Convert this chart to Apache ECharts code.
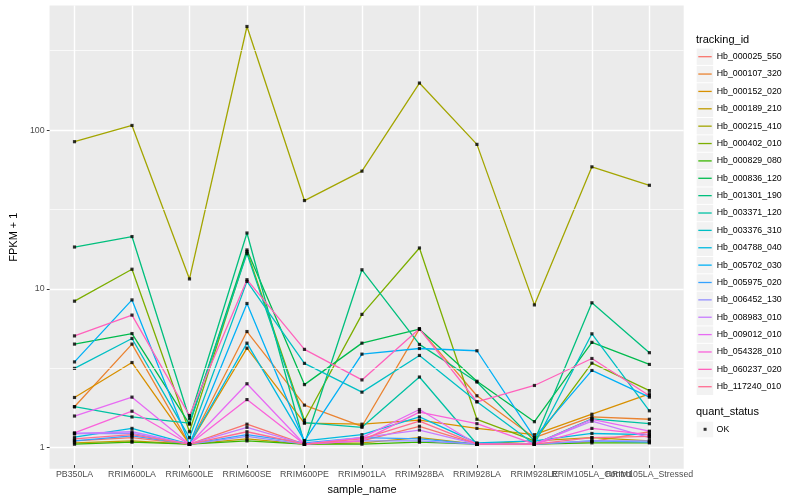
<!DOCTYPE html>
<html>
<head>
<meta charset="utf-8">
<script src="https://cdn.jsdelivr.net/npm/echarts@6/dist/echarts.min.js"></script>
<style>
html,body{margin:0;padding:0;background:#fff;}
#chart{width:800px;height:500px;}
</style>
</head>
<body>
<div id="chart"></div>
<script>
// ---------- data ----------
const categories = ['PB350LA','RRIM600LA','RRIM600LE','RRIM600SE','RRIM600PE','RRIM901LA','RRIM928BA','RRIM928LA','RRIM928LE','RRIM105LA_Control','RRIM105LA_Stressed'];

const trackingIds = ['Hb_000025_550','Hb_000107_320','Hb_000152_020','Hb_000189_210','Hb_000215_410','Hb_000402_010','Hb_000829_080','Hb_000836_120','Hb_001301_190','Hb_003371_120','Hb_003376_310','Hb_004788_040','Hb_005702_030','Hb_005975_020','Hb_006452_130','Hb_008983_010','Hb_009012_010','Hb_054328_010','Hb_060237_020','Hb_117240_010'];

// FPKM + 1 per sample (order of categories)
const Hb_000025_550 = [1.05, 1.10, 1.00, 1.34, 1.00, 1.05, 1.30, 1.00, 1.00, 1.04, 1.20];
const Hb_000107_320 = [1.73, 4.32, 1.00, 5.19, 1.77, 1.30, 5.40, 2.03, 1.10, 1.49, 1.44];
const Hb_000152_020 = [1.98, 3.30, 1.00, 4.07, 1.36, 1.34, 1.42, 1.26, 1.15, 1.55, 2.09];
const Hb_000189_210 = [1.02, 1.05, 1.00, 1.08, 1.00, 1.02, 1.10, 1.00, 1.05, 1.10, 1.05];
const Hb_000215_410 = [83.2, 105.5, 11.2, 448, 35.2, 54.1, 196, 80.0, 7.66, 57.6, 44.0];
const Hb_000402_010 = [8.09, 12.9, 1.20, 16.7, 1.42, 6.67, 17.6, 1.44, 1.05, 3.27, 2.19];
const Hb_000829_080 = [1.00, 1.03, 1.00, 1.05, 1.00, 1.00, 1.03, 1.00, 1.00, 1.02, 1.02];
const Hb_000836_120 = [4.32, 5.04, 1.34, 17.1, 2.39, 4.38, 5.37, 2.51, 1.39, 4.43, 3.21];
const Hb_001301_190 = [17.85, 20.8, 1.45, 21.9, 1.00, 12.8, 4.30, 2.48, 1.05, 7.90, 3.81];
const Hb_003371_120 = [1.73, 1.49, 1.36, 16.2, 1.37, 1.28, 2.67, 1.00, 1.00, 1.45, 1.35];
const Hb_003376_310 = [3.03, 4.69, 1.10, 10.8, 3.26, 2.14, 3.66, 1.86, 1.00, 5.02, 1.63];
const Hb_004788_040 = [1.11, 1.26, 1.00, 4.38, 1.05, 1.15, 1.49, 1.02, 1.05, 1.17, 1.15];
const Hb_005702_030 = [3.33, 8.24, 1.00, 7.82, 1.05, 3.73, 4.05, 3.92, 1.10, 2.94, 1.99];
const Hb_005975_020 = [1.05, 1.13, 1.00, 1.15, 1.02, 1.10, 1.08, 1.00, 1.00, 1.05, 1.03];
const Hb_006452_130 = [1.17, 1.17, 1.00, 1.12, 1.00, 1.05, 1.05, 1.00, 1.00, 1.05, 1.05];
const Hb_008983_010 = [1.17, 1.20, 1.00, 1.28, 1.00, 1.10, 1.23, 1.00, 1.00, 1.40, 1.10];
const Hb_009012_010 = [1.51, 1.99, 1.00, 2.42, 1.00, 1.10, 1.66, 1.00, 1.00, 1.44, 1.21];
const Hb_054328_010 = [1.18, 1.62, 1.00, 1.92, 1.00, 1.05, 1.60, 1.35, 1.00, 1.26, 1.15];
const Hb_060237_020 = [4.87, 6.60, 1.52, 11.07, 4.00, 2.56, 5.40, 1.86, 2.36, 3.50, 2.03];
const Hb_117240_010 = [1.08, 1.15, 1.00, 1.20, 1.00, 1.08, 1.40, 1.00, 1.00, 1.10, 1.12];

const seriesValues = [Hb_000025_550, Hb_000107_320, Hb_000152_020, Hb_000189_210, Hb_000215_410,
  Hb_000402_010, Hb_000829_080, Hb_000836_120, Hb_001301_190, Hb_003371_120,
  Hb_003376_310, Hb_004788_040, Hb_005702_030, Hb_005975_020, Hb_006452_130,
  Hb_008983_010, Hb_009012_010, Hb_054328_010, Hb_060237_020, Hb_117240_010];

const quantStatus = ['OK'];
const yMinorBreaks = [3.1623, 31.623, 316.23];

// ---------- style ----------
const palette = ['#F8766D','#EA8331','#D89000','#C09B00','#A3A500','#7CAE00','#39B600','#00BB4E','#00BF7D','#00C1A3',
  '#00BFC4','#00BAE0','#00B0F6','#35A2FF','#9590FF','#C77CFF','#E76BF3','#FA62DB','#FF62BC','#FF6C91'];
const FONT = 'Liberation Sans, Arial, Helvetica, sans-serif';
const Y_MIN = 0.737, Y_MAX = 608;

const lineSeries = trackingIds.map((id, i) => ({
  name: id,
  type: 'line',
  xAxisIndex: 0, yAxisIndex: 0,
  data: seriesValues[i],
  showSymbol: false, symbol: 'none',
  lineStyle: { color: palette[i], width: 1.3 },
  itemStyle: { color: palette[i] },
  z: 2,
  silent: true
}));

const pointData = [];
seriesValues.forEach(vals => vals.forEach((v, j) => pointData.push([categories[j], v])));

const option = {
  animation: false,
  textStyle: { fontFamily: FONT },
  title: [
    { text: 'tracking_id', left: 696, top: 33.5, padding: 0,
      textStyle: { fontFamily: FONT, fontSize: 11, fontWeight: 'normal', color: '#000', lineHeight: 13 } },
    { text: 'quant_status', left: 696, top: 405.8, padding: 0,
      textStyle: { fontFamily: FONT, fontSize: 11, fontWeight: 'normal', color: '#000', lineHeight: 13 } }
  ],
  grid: [
    { left: 74.5, right: 150.6, top: 5.6, bottom: 31.3, show: false, containLabel: false },
    { left: 39.8, right: 116.3, top: 5.6, bottom: 31.3, show: true, backgroundColor: '#EBEBEB', borderWidth: 0, containLabel: false }
  ],
  xAxis: [
    { type: 'category', gridIndex: 0, data: categories, boundaryGap: false,
      axisLine: { show: false },
      axisTick: { show: true, interval: 0, length: 2.75, lineStyle: { color: '#333333', width: 1 } },
      axisLabel: { interval: 0, hideOverlap: false, color: '#4D4D4D', fontSize: 8.8, fontFamily: FONT, margin: 5 },
      splitLine: { show: true, interval: 0, lineStyle: { color: '#FFFFFF', width: 1.4 } },
      name: 'sample_name', nameLocation: 'middle', nameGap: 13,
      nameTextStyle: { color: '#000', fontSize: 11, fontFamily: FONT, verticalAlign: 'top' }
    },
    { type: 'value', gridIndex: 1, min: 0, max: 1, show: false }
  ],
  yAxis: [
    { type: 'log', logBase: 10, gridIndex: 0, min: Y_MIN, max: Y_MAX, show: false },
    { type: 'log', logBase: 10, gridIndex: 1, min: Y_MIN, max: Y_MAX,
      axisLine: { show: false },
      axisTick: { show: true, length: 2.75, lineStyle: { color: '#333333', width: 1 } },
      axisLabel: { color: '#4D4D4D', fontSize: 8.8, fontFamily: FONT, margin: 5, showMinLabel: false, showMaxLabel: false },
      splitLine: { show: true, showMinLine: false, showMaxLine: false, lineStyle: { color: '#FFFFFF', width: 1.4 } },
      name: 'FPKM + 1', nameLocation: 'middle', nameGap: 24, nameRotate: 90,
      nameTextStyle: { color: '#000', fontSize: 11, fontFamily: FONT }
    }
  ],
  legend: [
    { // key backgrounds
      data: trackingIds, orient: 'vertical', left: 696.7, top: 48.5, padding: 0,
      itemWidth: 16.5, itemHeight: 16.4, itemGap: 0.97, icon: 'rect',
      itemStyle: { color: '#F2F2F2', borderWidth: 0 },
      formatter: () => '', textStyle: { fontSize: 1, lineHeight: 16.4 },
      selectedMode: false, z: 3
    },
    { // key lines + labels
      data: trackingIds, orient: 'vertical', left: 698.3, top: 48.0, padding: 0,
      itemWidth: 13.4, itemHeight: 1.3, itemGap: 0, icon: 'rect',
      textStyle: { fontFamily: FONT, fontSize: 8.8, color: '#000', lineHeight: 17.37 },
      selectedMode: false, z: 4
    },
    { // OK key background
      data: quantStatus, orient: 'vertical', left: 696.7, top: 421.7, padding: 0,
      itemWidth: 16.5, itemHeight: 15.6, icon: 'rect',
      itemStyle: { color: '#F2F2F2', borderWidth: 0 },
      formatter: () => '', textStyle: { fontSize: 1, lineHeight: 15.6 },
      selectedMode: false, z: 3
    },
    { // OK key
      data: quantStatus, orient: 'vertical', left: 703.6, top: 420.6, padding: 0,
      itemWidth: 3, itemHeight: 3, icon: 'rect',
      textStyle: { fontFamily: FONT, fontSize: 8.8, color: '#000', lineHeight: 17.37, padding: [0, 0, 0, 5] },
      selectedMode: false, z: 4
    }
  ],
  series: [
    { type: 'line', name: '__minor', xAxisIndex: 1, yAxisIndex: 1, data: [], z: 1, silent: true,
      markLine: { silent: true, symbol: ['none', 'none'], label: { show: false },
        lineStyle: { color: '#FFFFFF', width: 0.7, type: 'solid' },
        emphasis: { disabled: true },
        data: yMinorBreaks.map(v => ({ yAxis: v })) } },
    ...lineSeries,
    { name: 'OK', type: 'scatter', xAxisIndex: 0, yAxisIndex: 0, data: pointData,
      symbol: 'rect', symbolSize: 3.2, itemStyle: { color: '#000000' }, z: 3, silent: true }
  ]
};

const chart = echarts.init(document.getElementById('chart'), null, { renderer: 'canvas' });
chart.setOption(option);
</script>
</body>
</html>
